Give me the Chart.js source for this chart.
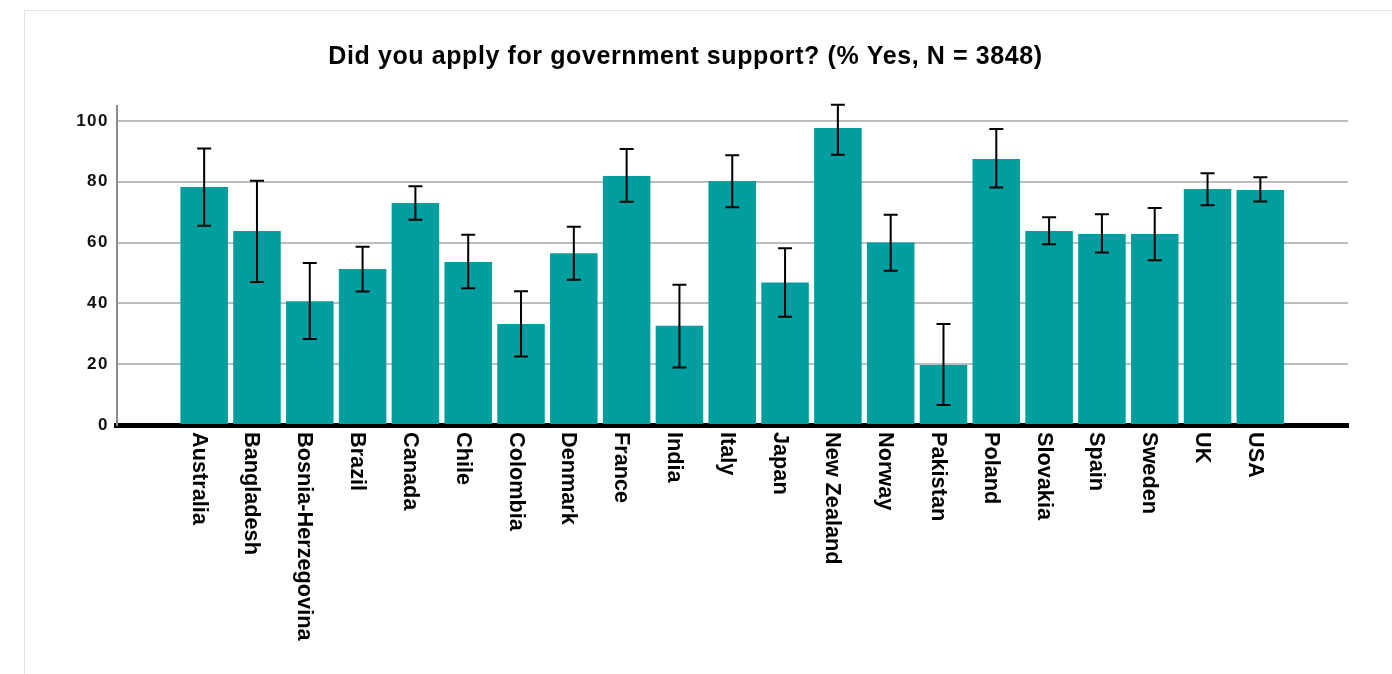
<!DOCTYPE html>
<html><head><meta charset="utf-8">
<script src="https://cdn.jsdelivr.net/npm/chart.js@4.4.1/dist/chart.umd.min.js"></script>
<style>
html,body{margin:0;padding:0;background:#fff;overflow:hidden}
#frame{position:absolute;left:24px;top:10px;width:1400px;height:700px;border:1px solid #dde4ec;box-sizing:border-box}
#c{position:absolute;left:0;top:0}
</style></head><body>
<div id="frame"></div>
<canvas id="c" width="1392" height="674"></canvas>
<script>
const chartTitle = 'Did you apply for government support? (% Yes, N = 3848)';
const countries = ['Australia','Bangladesh','Bosnia-Herzegovina','Brazil','Canada','Chile','Colombia','Denmark','France','India','Italy','Japan','New Zealand','Norway','Pakistan','Poland','Slovakia','Spain','Sweden','UK','USA'];
const pctYes = [78.3, 63.8, 40.7, 51.3, 73.0, 53.6, 33.2, 56.5, 81.9, 32.6, 80.2, 46.9, 97.7, 60.0, 19.7, 87.5, 63.8, 62.8, 62.8, 77.6, 77.3];
const ciLow  = [65.5, 47.0, 28.3, 43.9, 67.5, 45.0, 22.5, 47.8, 73.4, 18.9, 71.6, 35.6, 88.9, 50.7, 6.6, 78.1, 59.4, 56.7, 54.2, 72.3, 73.5];
const ciHigh = [90.9, 80.3, 53.3, 58.6, 78.5, 62.6, 44.0, 65.2, 90.8, 46.1, 88.7, 58.1, 105.3, 69.1, 33.2, 97.3, 68.3, 69.3, 71.4, 82.8, 81.5];
const yTicks = [0, 20, 40, 60, 80, 100];

const FONT = '"Liberation Sans", Arial, Helvetica, sans-serif';

const spacing = {
  id: 'spacing',
  beforeDraw(chart) { chart.ctx.letterSpacing = '1.5px'; }
};

const errorBars = {
  id: 'errorBars',
  afterDatasetsDraw(chart) {
    const {ctx, scales: {x, y}} = chart;
    ctx.save();
    ctx.strokeStyle = '#000';
    ctx.lineWidth = 2;
    countries.forEach((c, i) => {
      const px = x.getPixelForValue(i);
      const yl = y.getPixelForValue(ciLow[i]);
      const yh = y.getPixelForValue(ciHigh[i]);
      ctx.beginPath();
      ctx.moveTo(px, yl); ctx.lineTo(px, yh);
      ctx.moveTo(px - 7, yh); ctx.lineTo(px + 7, yh);
      ctx.moveTo(px - 7, yl); ctx.lineTo(px + 7, yl);
      ctx.stroke();
    });
    ctx.restore();
  }
};

const texts = {
  id: 'texts',
  afterDraw(chart) {
    const {ctx, scales: {x}} = chart;
    ctx.save();
    ctx.letterSpacing = '0px';
    ctx.fillStyle = '#000';
    ctx.font = 'bold 21.7px ' + FONT;
    ctx.textAlign = 'left';
    ctx.textBaseline = 'alphabetic';
    countries.forEach((c, i) => {
      const px = x.getPixelForValue(i);
      ctx.save();
      ctx.translate(px - 11.5, 432);
      ctx.rotate(Math.PI / 2);
      ctx.fillText(c, 0, 0);
      ctx.restore();
    });
    ctx.font = 'bold 25px ' + FONT;
    ctx.letterSpacing = '0.6px';
    ctx.textAlign = 'center';
    ctx.fillText(chartTitle, 685.5, 64);
    ctx.restore();
  }
};

new Chart(document.getElementById('c'), {
  type: 'bar',
  data: {
    datasets: [{
      data: countries.map((c, i) => ({x: i, y: pctYes[i]})),
      backgroundColor: '#009e9f',
      borderWidth: 0,
      barPercentage: 0.9,
      categoryPercentage: 1.0
    }]
  },
  options: {
    responsive: false,
    animation: false,
    events: [],
    layout: {padding: {left: 0, right: 44, top: 105.7, bottom: 0}},
    plugins: {legend: {display: false}, title: {display: false}, tooltip: {enabled: false}},
    scales: {
      x: {
        type: 'linear', min: -1.66, max: 21.66, z: 1, offset: false,
        grid: {display: false, drawTicks: false, offset: false},
        ticks: {display: false},
        border: {display: true, color: '#000', width: 5},
        afterFit(s) { s.height = 249; }
      },
      y: {
        min: 0, max: 105,
        afterBuildTicks(s) { s.ticks = yTicks.map(v => ({value: v})); },
        ticks: {font: {family: FONT, size: 17, weight: 'bold'}, color: '#111', padding: 7.5},
        grid: {color: '#bdbdbd', lineWidth: 2, drawTicks: false},
        border: {color: '#8a8a8a', width: 2},
        afterFit(s) { s.width = 116.5; }
      }
    }
  },
  plugins: [spacing, errorBars, texts]
});
</script>
</body></html>
